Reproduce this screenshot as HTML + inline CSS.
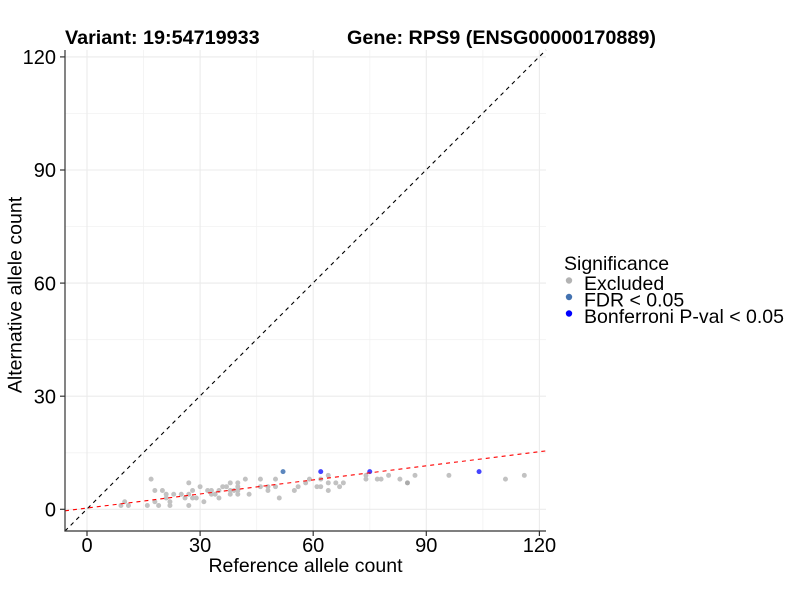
<!DOCTYPE html>
<html><head><meta charset="utf-8"><style>
html,body{margin:0;padding:0;background:#fff;}
svg{display:block;}
text{font-family:"Liberation Sans",Arial,sans-serif;fill:#000;}
</style></head><body>
<svg width="800" height="600" viewBox="0 0 800 600" xmlns="http://www.w3.org/2000/svg">
<rect width="800" height="600" fill="#fff"/>
<!-- minor grid -->
<g stroke="#F2F2F2" stroke-width="0.8">
<line x1="143.6" y1="50" x2="143.6" y2="531"/>
<line x1="256.7" y1="50" x2="256.7" y2="531"/>
<line x1="369.8" y1="50" x2="369.8" y2="531"/>
<line x1="482.9" y1="50" x2="482.9" y2="531"/>
<line x1="65" y1="452.8" x2="546" y2="452.8"/>
<line x1="65" y1="339.7" x2="546" y2="339.7"/>
<line x1="65" y1="226.6" x2="546" y2="226.6"/>
<line x1="65" y1="113.5" x2="546" y2="113.5"/>
</g>
<!-- major grid -->
<g stroke="#EBEBEB" stroke-width="1.1">
<line x1="87" y1="50" x2="87" y2="531"/>
<line x1="200.1" y1="50" x2="200.1" y2="531"/>
<line x1="313.2" y1="50" x2="313.2" y2="531"/>
<line x1="426.3" y1="50" x2="426.3" y2="531"/>
<line x1="539.4" y1="50" x2="539.4" y2="531"/>
<line x1="65" y1="509.3" x2="546" y2="509.3"/>
<line x1="65" y1="396.2" x2="546" y2="396.2"/>
<line x1="65" y1="283.1" x2="546" y2="283.1"/>
<line x1="65" y1="170" x2="546" y2="170"/>
<line x1="65" y1="56.9" x2="546" y2="56.9"/>
</g>
<!-- points -->
<g transform="translate(87,509.3) scale(3.77,-3.77)">
<g fill="#C2C2C2">
<circle cx="9" cy="1" r="0.66"/><circle cx="10" cy="2" r="0.66"/><circle cx="11" cy="1" r="0.66"/>
<circle cx="16" cy="1" r="0.66"/><circle cx="17" cy="8" r="0.66"/><circle cx="18" cy="2" r="0.66"/>
<circle cx="18" cy="5" r="0.66"/><circle cx="19" cy="1" r="0.66"/><circle cx="20" cy="5" r="0.66"/>
<circle cx="21" cy="4" r="0.66"/><circle cx="21" cy="3" r="0.66"/><circle cx="22" cy="2" r="0.66"/>
<circle cx="22" cy="1" r="0.66"/><circle cx="23" cy="4" r="0.66"/><circle cx="25" cy="4" r="0.66"/>
<circle cx="26" cy="3" r="0.66"/><circle cx="27" cy="7" r="0.66"/><circle cx="27" cy="4" r="0.66"/>
<circle cx="27" cy="1" r="0.66"/><circle cx="28" cy="5" r="0.66"/><circle cx="28" cy="3" r="0.66"/>
<circle cx="29" cy="3" r="0.66"/><circle cx="30" cy="6" r="0.66"/><circle cx="31" cy="2" r="0.66"/>
<circle cx="32" cy="5" r="0.66"/><circle cx="33" cy="5" r="0.66"/><circle cx="33" cy="4" r="0.66"/>
<circle cx="34" cy="4" r="0.66"/><circle cx="35" cy="5" r="0.66"/><circle cx="35" cy="3" r="0.66"/>
<circle cx="36" cy="6" r="0.66"/><circle cx="37" cy="6" r="0.66"/><circle cx="38" cy="7" r="0.66"/>
<circle cx="38" cy="5" r="0.66"/><circle cx="38" cy="4" r="0.66"/><circle cx="39" cy="5" r="0.66"/>
<circle cx="40" cy="7" r="0.66"/><circle cx="40" cy="6" r="0.66"/><circle cx="40" cy="5" r="0.66"/>
<circle cx="40" cy="4" r="0.66"/><circle cx="42" cy="8" r="0.66"/><circle cx="43" cy="4" r="0.66"/>
<circle cx="46" cy="8" r="0.66"/><circle cx="46" cy="6" r="0.66"/><circle cx="48" cy="6" r="0.66"/>
<circle cx="48" cy="5" r="0.66"/><circle cx="50" cy="8" r="0.66"/><circle cx="50" cy="6" r="0.66"/>
<circle cx="51" cy="3" r="0.66"/><circle cx="55" cy="5" r="0.66"/><circle cx="56" cy="6" r="0.66"/>
<circle cx="58" cy="7" r="0.66"/><circle cx="59" cy="8" r="0.66"/><circle cx="61" cy="6" r="0.66"/>
<circle cx="62" cy="6" r="0.66"/><circle cx="62" cy="8" r="0.66"/><circle cx="64" cy="9" r="0.66"/>
<circle cx="64" cy="7" r="0.66"/><circle cx="64" cy="5" r="0.66"/><circle cx="66" cy="7" r="0.66"/>
<circle cx="67" cy="6" r="0.66"/><circle cx="68" cy="7" r="0.66"/><circle cx="74" cy="9" r="0.66"/>
<circle cx="74" cy="8" r="0.66"/><circle cx="77" cy="8" r="0.66"/><circle cx="78" cy="8" r="0.66"/>
<circle cx="80" cy="9" r="0.66"/><circle cx="83" cy="8" r="0.66"/><circle cx="85" cy="7" r="0.66" fill="#ABABAB"/>
<circle cx="87" cy="9" r="0.66"/><circle cx="96" cy="9" r="0.66"/><circle cx="111" cy="8" r="0.66"/>
<circle cx="116" cy="9" r="0.66"/>
</g>
<circle cx="52" cy="10" r="0.66" fill="#5C87BE"/>
<g fill="#4444FF">
<circle cx="62" cy="10" r="0.66"/><circle cx="75" cy="10" r="0.66"/><circle cx="104" cy="10" r="0.66"/>
</g>
</g>
<!-- diagonal y=x -->
<line x1="65" y1="531" x2="546" y2="50" stroke="#000" stroke-width="1.1" stroke-dasharray="4,4"/>
<!-- red fit line -->
<line x1="65" y1="510.8" x2="546" y2="450.9" stroke="#FF0000" stroke-width="1.1" stroke-dasharray="4,4"/>
<!-- axes -->
<g stroke="#333" stroke-width="1.2">
<line x1="65" y1="50" x2="65" y2="531.5"/>
<line x1="64.4" y1="531" x2="546" y2="531"/>
<line x1="60" y1="509.3" x2="65" y2="509.3"/>
<line x1="60" y1="396.2" x2="65" y2="396.2"/>
<line x1="60" y1="283.1" x2="65" y2="283.1"/>
<line x1="60" y1="170" x2="65" y2="170"/>
<line x1="60" y1="56.9" x2="65" y2="56.9"/>
<line x1="87" y1="531" x2="87" y2="536"/>
<line x1="200.1" y1="531" x2="200.1" y2="536"/>
<line x1="313.2" y1="531" x2="313.2" y2="536"/>
<line x1="426.3" y1="531" x2="426.3" y2="536"/>
<line x1="539.4" y1="531" x2="539.4" y2="536"/>
</g>
<!-- y tick labels -->
<g font-size="20" text-anchor="end">
<text x="56" y="516.5">0</text>
<text x="56" y="403.4">30</text>
<text x="56" y="290.3">60</text>
<text x="56" y="177.2">90</text>
<text x="56" y="64.1">120</text>
</g>
<!-- x tick labels -->
<g font-size="20" text-anchor="middle">
<text x="87" y="552">0</text>
<text x="200.1" y="552">30</text>
<text x="313.2" y="552">60</text>
<text x="426.3" y="552">90</text>
<text x="539.4" y="552">120</text>
</g>
<!-- axis titles -->
<text x="305.5" y="572" font-size="19.5" text-anchor="middle">Reference allele count</text>
<text transform="translate(21.5,295) rotate(-90)" font-size="19.5" text-anchor="middle">Alternative allele count</text>
<!-- titles -->
<text x="65" y="44" font-size="19.8" font-weight="bold">Variant: 19:54719933</text>
<text x="347" y="44" font-size="19.8" font-weight="bold">Gene: RPS9 (ENSG00000170889)</text>
<!-- legend -->
<text x="564" y="270" font-size="19.5">Significance</text>
<circle cx="569" cy="280.5" r="3.2" fill="#B3B3B3"/>
<circle cx="569" cy="297" r="3.2" fill="#4372B0"/>
<circle cx="569" cy="313.5" r="3.2" fill="#0000FF"/>
<text x="584" y="290" font-size="19.5">Excluded</text>
<text x="584" y="306.5" font-size="19.5">FDR &lt; 0.05</text>
<text x="584" y="323" font-size="19.5">Bonferroni P-val &lt; 0.05</text>
</svg>
</body></html>
